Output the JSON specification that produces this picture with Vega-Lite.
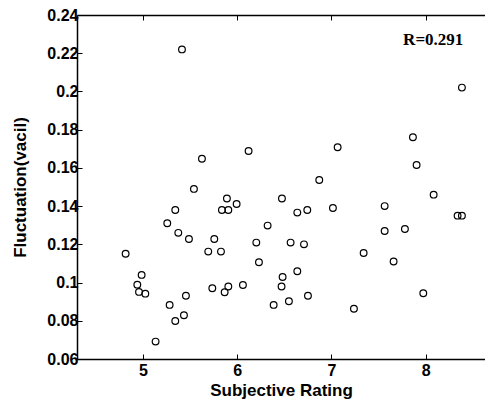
{
  "$schema": "https://vega.github.io/schema/vega-lite/v6.json",
  "width": 408,
  "height": 344,
  "autosize": {"type": "none"},
  "padding": {"left": 77, "top": 15, "right": 0, "bottom": 46},
  "background": "white",
  "config": {
    "view": {"stroke": null},
    "axis": {
      "domainColor": "black",
      "domainWidth": 1.5,
      "tickColor": "black",
      "tickWidth": 1,
      "tickSize": -5,
      "grid": false,
      "labelFont": "Liberation Sans",
      "labelFontSize": 16,
      "labelFontWeight": "bold",
      "labelColor": "black",
      "titleFont": "Liberation Sans",
      "titleFontSize": 17,
      "titleFontWeight": "bold",
      "titleColor": "black"
    }
  },
  "resolve": {"scale": {"x": "shared", "y": "shared"}, "axis": {"x": "independent", "y": "independent"}},
  "layer": [
    {
      "data": {
        "values": [
          {"rating": 5.414, "fluct": 0.222},
          {"rating": 8.385, "fluct": 0.202},
          {"rating": 7.865, "fluct": 0.176},
          {"rating": 7.904, "fluct": 0.1615},
          {"rating": 8.085, "fluct": 0.146},
          {"rating": 8.339, "fluct": 0.135},
          {"rating": 8.385, "fluct": 0.135},
          {"rating": 7.565, "fluct": 0.140},
          {"rating": 7.565, "fluct": 0.127},
          {"rating": 7.78, "fluct": 0.128},
          {"rating": 7.342, "fluct": 0.1155},
          {"rating": 7.66, "fluct": 0.111},
          {"rating": 7.975, "fluct": 0.0944},
          {"rating": 7.239, "fluct": 0.0863},
          {"rating": 7.066, "fluct": 0.1708},
          {"rating": 7.016, "fluct": 0.139},
          {"rating": 6.871, "fluct": 0.1537},
          {"rating": 6.475, "fluct": 0.144},
          {"rating": 6.638, "fluct": 0.1366},
          {"rating": 6.744, "fluct": 0.138},
          {"rating": 6.323, "fluct": 0.1298},
          {"rating": 6.567, "fluct": 0.1209},
          {"rating": 6.709, "fluct": 0.120},
          {"rating": 6.203, "fluct": 0.1209},
          {"rating": 6.231, "fluct": 0.1106},
          {"rating": 6.638, "fluct": 0.1059},
          {"rating": 6.482, "fluct": 0.1029},
          {"rating": 6.471, "fluct": 0.0979},
          {"rating": 6.549, "fluct": 0.0902},
          {"rating": 6.387, "fluct": 0.0883},
          {"rating": 6.751, "fluct": 0.0931},
          {"rating": 6.121, "fluct": 0.1688},
          {"rating": 5.626, "fluct": 0.1648},
          {"rating": 5.541, "fluct": 0.149},
          {"rating": 5.891, "fluct": 0.144},
          {"rating": 5.994, "fluct": 0.1411},
          {"rating": 5.838, "fluct": 0.138},
          {"rating": 5.906, "fluct": 0.138},
          {"rating": 5.343, "fluct": 0.138},
          {"rating": 5.258, "fluct": 0.131},
          {"rating": 5.375, "fluct": 0.126},
          {"rating": 5.488, "fluct": 0.1228},
          {"rating": 5.757, "fluct": 0.1228},
          {"rating": 5.693, "fluct": 0.1162},
          {"rating": 5.828, "fluct": 0.1162},
          {"rating": 4.816, "fluct": 0.1151},
          {"rating": 4.986, "fluct": 0.104},
          {"rating": 4.94, "fluct": 0.0989},
          {"rating": 4.958, "fluct": 0.0951},
          {"rating": 5.025, "fluct": 0.0942},
          {"rating": 5.736, "fluct": 0.097},
          {"rating": 5.906, "fluct": 0.0979},
          {"rating": 5.867, "fluct": 0.0949},
          {"rating": 6.061, "fluct": 0.0987},
          {"rating": 5.456, "fluct": 0.0931},
          {"rating": 5.283, "fluct": 0.0883},
          {"rating": 5.435, "fluct": 0.0829},
          {"rating": 5.343, "fluct": 0.0799},
          {"rating": 5.134, "fluct": 0.0691}
        ]
      },
      "mark": {"type": "point", "shape": "circle", "filled": false, "color": "black", "size": 45, "strokeWidth": 1.2, "opacity": 1},
      "encoding": {
        "x": {
          "field": "rating", "type": "quantitative",
          "scale": {"domain": [4.3, 8.63], "nice": false, "zero": false},
          "axis": {"orient": "bottom", "values": [5, 6, 7, 8], "title": "Subjective Rating", "labelPadding": 8, "titlePadding": 4}
        },
        "y": {
          "field": "fluct", "type": "quantitative",
          "scale": {"domain": [0.06, 0.24], "nice": false, "zero": false},
          "axis": {"orient": "left", "values": [0.06, 0.08, 0.1, 0.12, 0.14, 0.16, 0.18, 0.2, 0.22, 0.24], "format": "~g", "title": "Fluctuation(vacil)", "labelPadding": 4, "titlePadding": 17}
        }
      }
    },
    {
      "data": {"values": [{"rating": 8.4, "fluct": 0.2243, "label": "R=0.291"}]},
      "mark": {"type": "text", "align": "right", "baseline": "alphabetic", "font": "Liberation Serif", "fontWeight": "bold", "fontSize": 17, "color": "black"},
      "encoding": {
        "x": {
          "field": "rating", "type": "quantitative",
          "axis": {"orient": "top", "values": [5, 6, 7, 8], "labels": false, "title": null}
        },
        "y": {
          "field": "fluct", "type": "quantitative",
          "axis": {"orient": "right", "values": [0.06, 0.24], "labels": false, "ticks": false, "domain": false, "title": null}
        },
        "text": {"field": "label"}
      }
    }
  ]
}
